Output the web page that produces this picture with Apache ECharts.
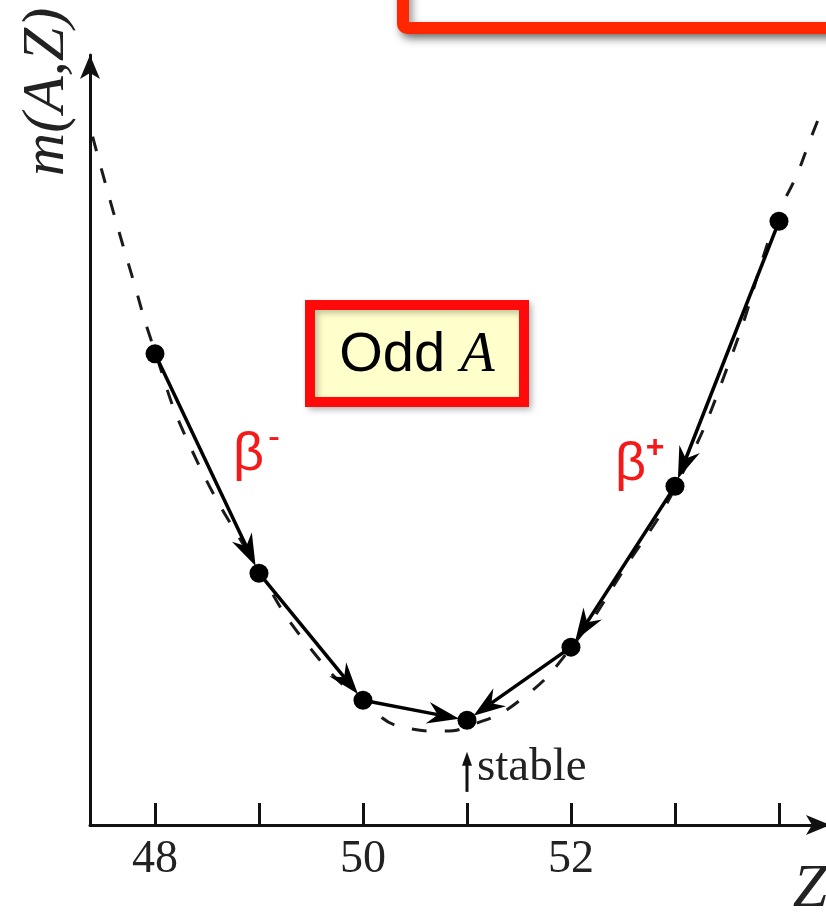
<!DOCTYPE html>
<html>
<head>
<meta charset="utf-8">
<title>m(A,Z) — odd A isobar chain</title>
<script src="https://cdn.jsdelivr.net/npm/echarts@6/dist/echarts.min.js"></script>
<style>
  html, body { margin: 0; padding: 0; background: #ffffff; }
  #chart { width: 826px; height: 916px; }
</style>
</head>
<body>
<div id="chart"></div>
<script>
// Tick positions and labelled ticks along Z
const zTicks = [48, 49, 50, 51, 52, 53, 54];
const zLabels = [48, 50, 52];

// Isobars of one odd mass number: charge Z and atomic mass (arbitrary units)
const nuclideZ = [48, 49, 50, 51, 52, 53, 54];
const nuclideMass = [6.12, 3.27, 1.62, 1.36, 2.31, 4.40, 7.84];

// Beta-decay steps (from Z -> to Z)
const decayFrom = [48, 49, 50, 54, 53, 52];
const decayTo = [49, 50, 51, 53, 52, 51];

// Mass parabola traced through the isobars (dashed)
const curveZ = [47.40, 47.60, 47.79, 47.97, 48.34, 48.98, 49.49, 50.07, 50.42, 50.74,
                51.03, 51.51, 52.01, 52.52, 53.02, 53.53, 53.97, 54.17, 54.30, 54.42];
const curveMass = [8.94, 7.96, 7.08, 6.27, 4.91, 3.35, 2.30, 1.52, 1.26, 1.22,
                   1.29, 1.62, 2.32, 3.34, 4.43, 6.04, 7.86, 8.44, 8.90, 9.31];

// The stable isobar marker: Z and the mass span of its pointer
const stableZ = 51;
const stableArrowSpan = [0.43, 0.95];

const massOf = z => nuclideMass[nuclideZ.indexOf(z)];
const points = nuclideZ.map((z, i) => [z, nuclideMass[i]]);
const curve = curveZ.map((z, i) => [z, curveMass[i]]);
const decays = decayFrom.map((z, i) => [z, massOf(z), decayTo[i], massOf(decayTo[i])]);

const INK = '#111111';

function arrowHead(tip, ux, uy, len, half, notch) {
  const nx = -uy, ny = ux;
  const back = [tip[0] - ux * len, tip[1] - uy * len];
  const mid = [tip[0] - ux * len * notch, tip[1] - uy * len * notch];
  return {
    mid: mid,
    points: [tip, [back[0] + nx * half, back[1] + ny * half], mid, [back[0] - nx * half, back[1] - ny * half]]
  };
}

const chart = echarts.init(document.getElementById('chart'), null, { renderer: 'canvas' });

chart.setOption({
  animation: false,
  backgroundColor: '#ffffff',
  grid: { left: 90, right: 0, top: 55, bottom: 91, containLabel: false },
  xAxis: {
    type: 'value',
    min: 47.375,
    max: 54.452,
    axisLine: {
      show: true,
      lineStyle: { color: INK, width: 3 },
      symbol: ['none', 'arrow'],
      symbolSize: [15, 24],
      symbolOffset: [0, 4]
    },
    axisTick: {
      show: true, inside: true, length: 22,
      lineStyle: { color: INK, width: 3 },
      customValues: zTicks
    },
    axisLabel: {
      show: true,
      customValues: zLabels,
      margin: 12,
      color: '#222222',
      fontFamily: '"Liberation Serif", "DejaVu Serif", serif',
      fontSize: 46
    },
    splitLine: { show: false }
  },
  yAxis: {
    type: 'value',
    min: 0,
    max: 10,
    axisLine: {
      show: true,
      lineStyle: { color: INK, width: 3 },
      symbol: ['none', 'arrow'],
      symbolSize: [15, 24],
      symbolOffset: [0, 0]
    },
    axisTick: { show: false },
    axisLabel: { show: false },
    splitLine: { show: false }
  },
  series: [
    {
      name: 'mass parabola',
      type: 'line',
      data: curve,
      smooth: true,
      showSymbol: false,
      silent: true,
      lineStyle: { color: '#1a1a1a', width: 3, type: [15, 18] },
      z: 2
    },
    {
      name: 'beta decay',
      type: 'custom',
      coordinateSystem: 'cartesian2d',
      data: decays,
      encode: { x: [0, 2], y: [1, 3] },
      silent: true,
      z: 3,
      renderItem: function (params, api) {
        const a = api.coord([api.value(0), api.value(1)]);
        const b = api.coord([api.value(2), api.value(3)]);
        const dx = b[0] - a[0], dy = b[1] - a[1];
        const len = Math.hypot(dx, dy);
        const ux = dx / len, uy = dy / len;
        const tip = [b[0] - ux * 8, b[1] - uy * 8];
        const head = arrowHead(tip, ux, uy, 32, 11, 0.68);
        return {
          type: 'group',
          children: [
            { type: 'line', shape: { x1: a[0], y1: a[1], x2: head.mid[0], y2: head.mid[1] },
              style: { stroke: '#000000', lineWidth: 3.5 } },
            { type: 'polygon', shape: { points: head.points }, style: { fill: '#000000' } }
          ]
        };
      }
    },
    {
      name: 'isobars',
      type: 'scatter',
      data: points,
      symbol: 'circle',
      symbolSize: 19,
      itemStyle: { color: '#000000', opacity: 1 },
      silent: true,
      z: 4
    },
    {
      name: 'stable',
      type: 'custom',
      coordinateSystem: 'cartesian2d',
      data: [[stableZ, stableArrowSpan[0], stableArrowSpan[1]]],
      encode: { x: 0, y: [1, 2] },
      silent: true,
      z: 4,
      renderItem: function (params, api) {
        const lo = api.coord([api.value(0), api.value(1)]);
        const hi = api.coord([api.value(0), api.value(2)]);
        return {
          type: 'group',
          children: [
            { type: 'line', shape: { x1: lo[0], y1: lo[1], x2: hi[0], y2: hi[1] + 10 },
              style: { stroke: INK, lineWidth: 3 } },
            { type: 'polygon', shape: { points: [[hi[0], hi[1]], [hi[0] + 5, hi[1] + 14], [hi[0] - 5, hi[1] + 14]] },
              style: { fill: INK } },
            { type: 'text', x: lo[0] + 10, y: lo[1] - 1,
              style: { text: 'stable', font: '47px "Liberation Serif", "DejaVu Serif", serif',
                       fill: '#222222', align: 'left', verticalAlign: 'bottom' } }
          ]
        };
      }
    }
  ],
  graphic: [
    // banner across the top edge
    {
      type: 'rect', z: 10,
      shape: { x: 403, y: -40, width: 520, height: 68, r: 4 },
      style: { fill: '#ffffff', stroke: '#ff2600', lineWidth: 12,
               shadowBlur: 8, shadowOffsetX: 3, shadowOffsetY: 5, shadowColor: 'rgba(0,0,0,0.45)' }
    },
    // "Odd A" tag
    {
      type: 'rect', z: 10,
      shape: { x: 310, y: 305, width: 214, height: 97 },
      style: { fill: '#ffffcc', stroke: '#ff0a0a', lineWidth: 10,
               shadowBlur: 6, shadowOffsetX: 3, shadowOffsetY: 3, shadowColor: 'rgba(0,0,0,0.25)' }
    },
    {
      type: 'text', z: 11, x: 417, y: 356,
      style: {
        text: '{s|Odd }{i|A}',
        align: 'center', verticalAlign: 'middle',
        rich: {
          s: { font: '56px "Liberation Sans", Arial, sans-serif', fill: '#000000' },
          i: { font: 'italic 56px "Liberation Serif", "DejaVu Serif", serif', fill: '#000000' }
        }
      }
    },
    // decay mode labels
    { type: 'text', z: 11, x: 233, y: 455,
      style: { text: 'β', font: '54px "Liberation Sans", Arial, sans-serif', fill: '#f41a1a', align: 'left', verticalAlign: 'middle' } },
    { type: 'text', z: 11, x: 274, y: 438,
      style: { text: '-', font: '36px "Liberation Sans", Arial, sans-serif', fill: '#f41a1a', align: 'center', verticalAlign: 'middle' } },
    { type: 'text', z: 11, x: 615, y: 465,
      style: { text: 'β', font: '54px "Liberation Sans", Arial, sans-serif', fill: '#f41a1a', align: 'left', verticalAlign: 'middle' } },
    { type: 'text', z: 11, x: 655, y: 448,
      style: { text: '+', font: 'bold 32px "Liberation Sans", Arial, sans-serif', fill: '#f41a1a', align: 'center', verticalAlign: 'middle' } },
    // axis names
    { type: 'text', z: 11, x: 47, y: 92, rotation: Math.PI / 2,
      style: { text: 'm(A,Z)', font: 'italic 60px "Liberation Serif", "DejaVu Serif", serif', fill: '#222222',
               align: 'center', verticalAlign: 'middle' } },
    { type: 'text', z: 11, x: 810, y: 890,
      style: { text: 'Z', font: 'italic 62px "Liberation Serif", "DejaVu Serif", serif', fill: '#222222',
               align: 'center', verticalAlign: 'middle' } }
  ]
});
</script>
</body>
</html>
